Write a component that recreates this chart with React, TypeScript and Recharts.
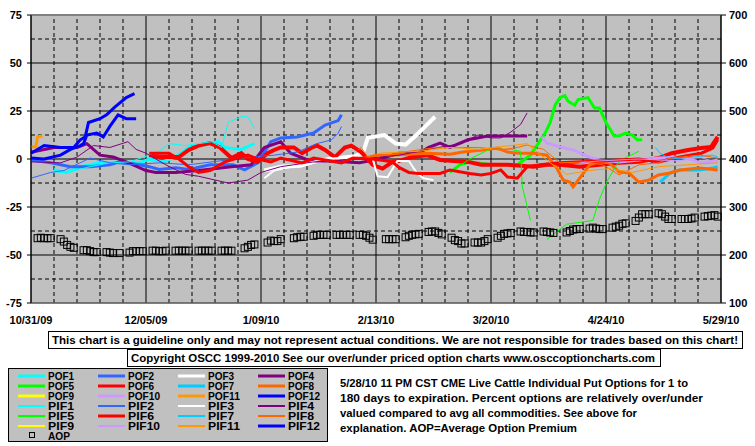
import React from 'react'
import { ComposedChart, Line, Scatter, XAxis, YAxis, CartesianGrid, ReferenceLine } from 'recharts'

// days counted from 10/31/09
const X_TICKS = [0, 35, 70, 105, 140, 175, 210]
const X_LABELS = ['10/31/09', '12/05/09', '1/09/10', '2/13/10', '3/20/10', '4/24/10', '5/29/10']
const LEFT_TICKS = [-75, -50, -25, 0, 25, 50, 75]
const RIGHT_TICKS = [100, 200, 300, 400, 500, 600, 700]
const MINOR_Y = [-62.5, -37.5, -12.5, 12.5, 37.5, 62.5]
const MINOR_X = [7, 14, 21, 28, 42, 49, 56, 63, 77, 84, 91, 98, 112, 119, 126, 133, 147, 154, 161, 168, 182, 189, 196, 203]

// [day, percent]
const POF1 = [[7, -6], [11, -7], [15, -4], [21, -2], [29, -1.5], [33, -2], [36, 0], [40, -1.5], [44, 1], [48, 6], [52, 7], [57, 9], [59, 6], [64, 5], [68, 8]]
const POF2 = [[0, -0.5], [6, -2], [12, -4], [18, -4], [24, -3], [27, -1.5], [33, -3], [36, -4], [39, -5.5], [44, -4.5], [48, -5.5], [54.5, -3], [57.5, -3], [61.5, -3], [65, -5.7], [69, -2], [73, 9], [76, 11], [81, 11.5], [86, 13.5], [89.5, 17.7], [93.5, 20], [94.5, 23]]
const POF3 = [[71, -6], [76, -4], [82, -3.5], [86, -1.5], [91, 0], [98.5, 1.5], [101, 3], [102.5, 11], [107.5, 12.5], [111, 8], [114, 7.5], [117, 12], [120, 17], [123, 22]]
const POF4 = [[0, 3.5], [7, 6], [14, 6], [17, 8], [21, 2], [25, 1], [29, -1.5], [35, -6], [38, -7], [44, -7], [51, -6], [61, -4], [67, -3], [71, 6], [76, 9], [79, 3], [85, -1], [91, -1], [100, -2], [106, 0], [112, 3], [118, 3], [121, 6], [124.5, 8.3], [127.5, 6], [133, 10], [139, 12], [146, 12], [151, 12]]
const POF5 = [[127.5, -7], [130.5, -3], [133.5, -1.5], [140, -3], [148, -3], [152, 2], [156.5, 13.5], [158, 19], [159.5, 28], [161, 32], [162.5, 33], [163.5, 30], [165.5, 28], [166.5, 31], [169.5, 32], [171.5, 26.5], [173, 26.5], [175, 19], [177.5, 12], [179, 12], [181, 13.5], [183, 12.5], [184.5, 10], [186, 10]]
const POF6 = [[36, 2], [39, 1], [45, 1], [48, 4.7], [51, 7], [54.5, 8.3], [57.5, 6], [61, 0.5], [64, 3], [66, 0], [69, -1.5], [72, 3], [74, 4.7], [76, 6], [80, 6], [82.5, 3], [85.5, 6], [87, 7], [89.5, 4.7], [92.5, 1], [95.5, 6], [97.5, 7], [100.5, 3.6], [104, -3], [107, -5], [110, -1.5], [113, -0.5], [116, 1], [120.5, 2], [124.5, -0.5], [133, -1.5], [137, -3], [145, -3], [153, -4], [157, -3], [161, -3], [167, -4], [173, -3], [179, -2], [185, -1.5], [191, 0.5], [195, 3], [200, 4.7], [204, 5.7], [207, 6.3], [209, 11.5]]
const POF7 = [[191.5, -12], [194.5, -7.3], [197.5, -5.7], [203.5, -5.7], [207.5, -4.7], [209, -4]]
const POF8 = [[101, 0], [105, 2], [109, 2], [115, 2.5], [121, 3], [127.5, 2.5], [131.5, 3.6], [137.5, 4.7], [142, 5.7], [145, 3.6], [149, 3], [153, 3], [157, 2], [160, -4.7], [162, -11], [164, -12], [165, -14.5], [167, -10], [170, -3], [173, -1.5], [176, -2], [179, -6.7], [182, -7.3], [185, -12], [188, -11], [191, -8.3], [194.5, -7.3], [197.5, -5.7], [203.5, -4.7], [209, -5.7]]
const POF9: number[][] = []
const POF10 = [[155.5, 11.5], [157, 8.3], [161, 6.3], [165, 4.7], [170, 1], [173, -0.5], [179, -1.5], [185, -0.5], [191, 0.5], [197.5, 1], [201.5, -0.5], [203.5, -2], [206.5, -1.5], [209, -0.5]]
const POF11 = [[0, 6.4], [1.5, 6.4], [2, 11.6], [3.5, 12]]
const POF12 = [[0, 0.5], [4, 0], [9, 2], [12, 5], [15, 7], [16, 8], [17, 12.5], [20, 13.5], [22, 11.5], [24, 17], [26.5, 23], [29, 21], [32, 21]]

const PIF1 = [[7, -5], [11, -7], [18, -4], [24, -2], [30, -1.5], [36, 2], [39, 4], [42, 8], [47, 7], [51, 8], [55, 9], [58, 6], [60, 19], [64, 22], [66, 22], [68, 16]]
const PIF2 = [[0, -10], [6, -7], [10, -6], [18, 0.5], [24, -2], [30, -3], [39, -2], [48, -3], [57.5, -1], [66, 1], [74, 2], [81, 3.6], [87, 8], [91.5, 10], [93.5, 13.5], [94.5, 17]]
const PIF3 = [[71, -10], [74, -6], [82, -3], [89.5, 0], [98.5, 1], [104, 0], [105.5, -9], [108.5, -9.5], [111.5, -1], [115, -1], [117.5, -7.5], [119.5, -10], [122.5, -11]]
const PIF4 = [[0, -1.5], [9, -2], [14, 1], [19, 7], [24, 6], [29.5, 9], [32, 5], [35, 3], [41, -3], [47, -8], [51, -9], [60, -12.5], [66, -11], [70, -7], [76, -4], [86, -1.5], [94, -0.5], [100, 0], [112, 2], [124, 6], [131, 8], [136, 12.5], [140, 11], [143, 11], [146, 14], [149, 18], [151, 24]]
const PIF5 = [[127.5, -7], [133.5, 0], [139.5, 5], [146, 5], [149, 4], [149.5, -14], [152, -32], [154, null], [157, -42], [163, -34], [171, -32], [173, -21], [175.5, -11], [179, -1], [185, 4]]
const PIF6 = [[36, 3], [42, 3], [45, 0], [48, -4], [51, -7], [54.5, -6], [57.5, -3], [59, -1.5], [66, 2], [69, 0], [73, -1.5], [76, 0.5], [82.5, -2], [86, 0.5], [94.5, -2], [98, 0.5], [104, 0], [110, -1.5], [112, -4.4], [115, -7], [118, -7.5], [124.5, -7.5], [127.5, -5.7], [133.5, -7.5], [137, -8.3], [140, -7.5], [143, -5.7], [145, -9.4], [148, -10], [151, -4], [155, -3], [161, -2], [173, -1], [185, 0], [191, -1.5], [197.5, 1], [204, 3], [207.5, 5.7], [209, 10]]
const PIF7 = [[190, 6], [191.5, 3], [194.5, 0], [201.5, 1], [207.5, 2], [209, 1]]
const PIF8 = [[99.5, 4.7], [100.5, 6], [102.5, 1], [108.5, 2], [115, 4], [122, 5.7], [130.5, 6], [136.5, 6], [142.5, 4.7], [148, 6], [151, 7.3], [156, 5], [161, -2], [169, -1.5], [174, -3], [179, -8.3], [182, -5.7], [185, -3], [191, -2], [194.5, 0.5], [203.5, 2], [209, 0.5]]
const PIF9: number[][] = []
const PIF10 = [[167, -2], [173, -1], [185, 0], [197.5, -1], [203.5, 1], [209, -2]]
const PIF11 = [[106, 3], [118, 4], [127.5, 6], [136.5, 5], [146, 7], [151, 8], [158, -2], [163, -8], [170, -6], [176, -5], [183, -7], [191, -4], [200, -3], [209, -2]]
const PIF12 = [[0, 3], [4, 7], [9, 6], [13, 6], [15, 10], [16.5, 11.5], [17.5, 19], [21, 21], [23, 23], [25.5, 27], [29, 32], [31.5, 34]]

// average option premium, Mon..Fri of each week (null = holiday)
const AOP_WEEKS = [
  [235, 236, 235, 235, 235], [233, 228, 221, 217, 215], [210, 210, 208, 206, 206], [206, 205, 204, null, 204],
  [205, 208, 208, 208, 208], [209, 209, 208, 208, 209], [209, 209, 209, 209, 209], [209, 209, 209, 209, 209],
  [209, 209, 209, 209, null], [214, 217, 221, 222, null], [226, 230, 229, 229, 233], [null, 235, 237, 238, 238],
  [240, 242, 242, 242, 242], [242, 242, 242, 242, 242], [242, 242, 240, 236, 232], [null, 233, 233, 233, 233],
  [237, 240, 242, 243, 244], [248, 249, 249, 246, 243], [236, 231, 229, 224, 224], [226, 226, 226, 229, 233],
  [236, 240, 244, 245, 246], [249, 248, 248, 247, 247], [249, 248, 247, 246, null], [247, 250, 253, 254, 254],
  [255, 257, 255, 254, 254], [257, 259, 261, 265, 266], [271, 278, 285, 285, 285], [287, 285, 280, 275, 275],
  [275, 275, 275, 276, 278], [280, 281, 282, 283, 280],
]

const COLORS = ['#00FFFF', '#3366FF', '#FFFFFF', '#800080', '#00FF00', '#FF0000', '#00CCFF', '#FF6600', '#FFFF00', '#CC99FF', '#FF9900', '#0000FF']
const POF = [POF1, POF2, POF3, POF4, POF5, POF6, POF7, POF8, POF9, POF10, POF11, POF12]
const PIF = [PIF1, PIF2, PIF3, PIF4, PIF5, PIF6, PIF7, PIF8, PIF9, PIF10, PIF11, PIF12]

const series = [
  ...POF.map((d, i) => ({ name: `POF${i + 1}`, data: d, color: COLORS[i], width: i === 5 || i === 2 ? 4 : 3 })),
  ...PIF.map((d, i) => ({ name: `PIF${i + 1}`, data: d, color: COLORS[i], width: i === 11 || i === 5 ? 3 : i === 2 ? 2 : 1 })),
]

const aopData: { day: number; aop: number }[] = []
AOP_WEEKS.forEach((week, w) => week.forEach((v, k) => { if (v != null) aopData.push({ day: w * 7 + 2 + k, aop: v }) }))

const FONT = '"Liberation Sans", Arial, sans-serif'
const tickStyle = { fill: '#000', fontSize: 11, fontWeight: 700, fontFamily: FONT }

const Square = (props: any) => {
  const { cx, cy } = props
  if (cx == null || cy == null) return null
  return <rect x={cx - 3.5} y={cy - 3.5} width={7} height={7} fill="none" stroke="#000" strokeWidth={1} />
}

const DESC = [
  ['5/28/10 11 PM CST CME Live Cattle Individual Put Options for 1 to', 348],
  ['180 days to expiration. Percent options are relatively over/under', 363],
  ['valued compared to avg all commodities. See above for', 297],
  ['explanation. AOP=Average Option Premium', 237],
]

export default function App() {
  return (
    <div style={{ position: 'absolute', left: 0, top: 0, width: 755, height: 446, background: '#fff' }}>
      <ComposedChart width={755} height={330} margin={{ top: 15, right: 0, bottom: 0, left: 0 }}>
        <CartesianGrid yAxisId="left" stroke="#000" fill="#C0C0C0" fillOpacity={1} />
        <XAxis
          type="number"
          dataKey="day"
          domain={[0, 210]}
          ticks={X_TICKS}
          tickFormatter={(v) => X_LABELS[X_TICKS.indexOf(v)]}
          tick={tickStyle}
          tickLine={false}
          tickSize={0}
          tickMargin={13}
          height={27}
          stroke="#808080"
          interval={0}
        />
        <YAxis yAxisId="left" domain={[-75, 75]} ticks={LEFT_TICKS} width={31} tick={tickStyle} tickSize={4} tickMargin={5} stroke="#000" interval={0} />
        <YAxis yAxisId="right" orientation="right" domain={[100, 700]} ticks={RIGHT_TICKS} width={34} tick={tickStyle} tickSize={5} tickMargin={3} stroke="#000" interval={0} />
        {MINOR_Y.map((y) => (
          <ReferenceLine key={`y${y}`} yAxisId="left" y={y} stroke="#000" strokeDasharray="4 3" />
        ))}
        {MINOR_X.map((x) => (
          <ReferenceLine key={`x${x}`} yAxisId="left" x={x} stroke="#000" strokeDasharray="4 3" />
        ))}
        <ReferenceLine yAxisId="left" y={75} stroke="#808080" strokeWidth={2} />
        {series.map((s) => (
          <Line
            key={s.name}
            yAxisId="left"
            data={s.data.map(([d, v]) => ({ day: d, v }))}
            dataKey="v"
            type="linear"
            stroke={s.color}
            strokeWidth={s.width}
            dot={false}
            activeDot={false}
            connectNulls={false}
            isAnimationActive={false}
          />
        ))}
        <Scatter yAxisId="right" data={aopData} dataKey="aop" shape={Square} isAnimationActive={false} />
      </ComposedChart>
      <svg width={755} height={446} style={{ position: 'absolute', left: 0, top: 0, pointerEvents: 'none' }} fontFamily={FONT} fontWeight={700}>
        <rect x={48.5} y={331.5} width={694} height={17} fill="#fff" stroke="#000" />
        <text x={52} y={344} fontSize={11.5} textLength={686} lengthAdjust="spacingAndGlyphs">
          This chart is a guideline only and may not represent actual conditions. We are not responsible for trades based on this chart!
        </text>
        <rect x={127.5} y={349.5} width={533} height={17} fill="#fff" stroke="#000" />
        <text x={131} y={362} fontSize={11.5} textLength={524} lengthAdjust="spacingAndGlyphs">
          Copyright OSCC 1999-2010 See our over/under priced option charts www.osccoptioncharts.com
        </text>
        <rect x={8.5} y={368.5} width={319} height={73} fill="#C0C0C0" stroke="#000" />
        {series.map((s, i) => {
          const row = Math.floor(i / 4)
          const col = i % 4
          const x = 18 + col * 80
          const y = 376 + row * 10
          return (
            <g key={s.name}>
              <line x1={x} x2={x + 27} y1={y} y2={y} stroke={s.color} strokeWidth={s.width > 2 ? 3 : 2} />
              <text x={x + 30} y={y + 4} fontSize={10} textLength={s.name.length > 4 ? 32 : 26} lengthAdjust="spacingAndGlyphs">
                {s.name}
              </text>
            </g>
          )
        })}
        <rect x={29.5} y={432.5} width={5} height={5} fill="none" stroke="#000" />
        <text x={48} y={440} fontSize={10} textLength={22} lengthAdjust="spacingAndGlyphs">AOP</text>
        {DESC.map(([t, w], i) => (
          <text key={i} x={340} y={387 + i * 15} fontSize={11.5} textLength={w as number} lengthAdjust="spacingAndGlyphs">
            {t}
          </text>
        ))}
      </svg>
    </div>
  )
}
